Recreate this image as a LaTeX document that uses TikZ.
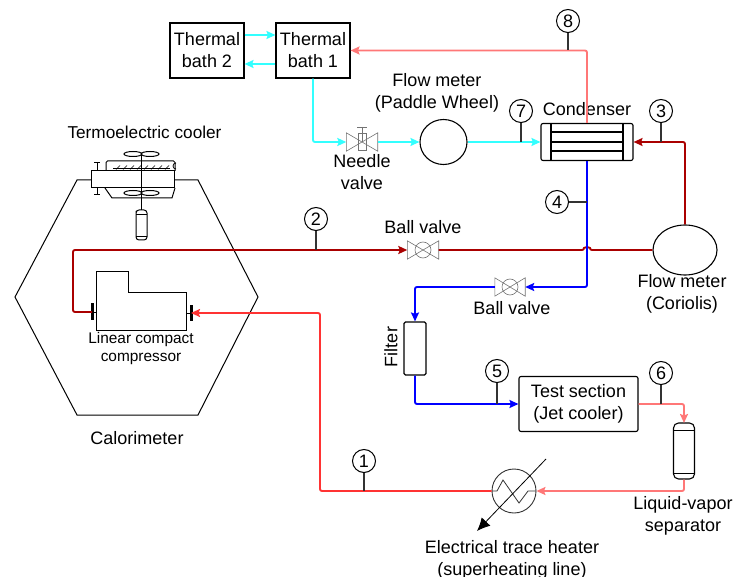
\documentclass[tikz,border=0pt]{standalone}
\usepackage{fontspec}
\setmainfont{Liberation Sans}
\usetikzlibrary{arrows.meta}
\usetikzlibrary{calc}
\usetikzlibrary{shapes.geometric}
\definecolor{cyanline}{HTML}{33FFFF}
\definecolor{darkline}{HTML}{AA0000}
\definecolor{blueline}{HTML}{0000FF}
\definecolor{pinkline}{HTML}{FF7777}
\definecolor{redline}{HTML}{FF3333}
\tikzset{
  pipe/.style={line width=1.9pt, rounded corners=2pt},
  flow/.style={pipe, -{Stealth[length=9pt,width=8pt,inset=1.5pt]}},
  tag/.style={circle, draw, line width=1pt, minimum size=23pt, inner sep=0pt, font=\fontsize{18}{18}\selectfont},
  tagline/.style={draw=black!80, line width=1.2pt},
  box/.style={draw, line width=1.1pt, align=center, font=\fontsize{18}{22}\selectfont, inner sep=0pt},
  meter/.style={ellipse, draw, line width=1.1pt, inner sep=0pt},
  txt/.style={align=center, font=\fontsize{18}{22}\selectfont, inner sep=0pt},
  hole/.style={inner sep=0pt, minimum width=#1, minimum height=18pt},
  fan/.style={line width=1pt},
  valve/.style={draw=black!55, line width=.6pt},
}
\begin{document}
\begin{tikzpicture}[x=1pt,y=-1pt]
  \useasboundingbox (0,0) rectangle (733,577);
  % calorimeter
  \draw[line width=1pt] (91,180)--(77,180)--(15,297)--(77,415)--(198,415)--(258,297)--(198,180)--(175,180);
  \node[txt] (calorimeter) at (137,438) {Calorimeter};
  % cooler
  \node[txt, font=\fontsize{17.2}{21}\selectfont] (coolerlabel) at (144.5,132) {Termoelectric cooler};
  \node[draw, line width=1pt, minimum width=83pt, minimum height=17pt, inner sep=0pt, fill=white] (cooler) at (132.5,179.5) {};
  \draw[line width=1pt, rounded corners=1.5pt] (106,171)--(106,161)--(175,161)--(175,171);
  \draw[line width=.8pt] (113,168)--(170,168);
  \foreach \x in {116,123,...,165}
    \draw[line width=.7pt] (\x,169.5)--(\x+4,165.5);
  \draw[line width=.8pt] (176,163) arc[start angle=-90, end angle=90, radius=-3pt];
  \draw[line width=1pt] (105,188)--(112,198)--(172,198)--(175,188);
  \draw[line width=1pt] (94,163)--(100,163) (97,163)--(97,171) (97,188)--(97,195) (94,195)--(100,195);
  \draw[line width=1pt] (141,153)--(141,210);
  \foreach \y in {154,193}
    {
      \draw[fan] (133,\y) ellipse [x radius=9pt, y radius=2.5pt];
      \draw[fan] (150,\y) ellipse [x radius=9pt, y radius=2.5pt];
    }
  \draw[line width=1pt, rounded corners=3pt] (136,214)--(136,210)--(147,210)--(147,240)--(136,240)--cycle;
  \draw[line width=.8pt] (136,214)--(147,214) (136,236)--(147,236);
  % compressor
  \draw[line width=1pt] (96,271)--(128,271)--(128,292)--(186,292)--(186,330)--(96,330)--cycle;
  \coordinate (compin) at (92,312);
  \coordinate (compout) at (191,313);
  \draw[line width=3pt] (92,303)--(92,320) (191,305)--(191,321);
  \draw[line width=1pt] (92,312)--(96,312) (186,313)--(191,313);
  \node[align=center, inner sep=0pt, font=\fontsize{15.4}{18}\selectfont] (complabel) at (141,349) {Linear compact\\compressor};
  % baths
  \node[box, minimum width=74pt, minimum height=55pt] (bath2) at (207,50.5) {Thermal\\bath 2};
  \node[box, minimum width=74pt, minimum height=55pt] (bath1) at (313,50.5) {Thermal\\bath 1};
  % condenser
  \node[draw, line width=1.1pt, rounded corners=2pt, minimum width=92pt, minimum height=37pt, inner sep=0pt] (condenser) at (587,142) {};
  \draw[line width=1.1pt] (551,123.5)--(551,160.5) (623,123.5)--(623,160.5);
  \foreach \y in {132,142,151}
    \draw[line width=1.1pt] (551,\y)--(623,\y);
  \node[txt] (condlabel) at (587,109) {Condenser};
  % meters
  \node[meter, minimum width=47pt, minimum height=45pt] (paddle) at (443.5,142) {};
  \node[txt] (paddlelabel) at (437,93) {Flow meter\\(Paddle Wheel)};
  \node[meter, minimum width=64pt, minimum height=50pt] (coriolis) at (685,250) {};
  \node[txt] (corioslabel) at (682,294) {Flow meter\\(Coriolis)};
  % valves
  \node[hole=31pt] (needle) at (362,142) {};
  \draw[valve] (needle.south west)--(needle.north east)--(needle.south east)--(needle.north west)--cycle;
  \draw[valve] (362,127)--(362,142) (357,127)--(367,127) (358,133) rectangle (366,150);
  \node[txt] (needlelabel) at (362,172) {Needle\\valve};
  \node[hole=31pt] (ball1) at (423,250) {};
  \draw[valve] (ball1.south west)--(ball1.north east)--(ball1.south east)--(ball1.north west)--cycle (ball1) circle [radius=8pt];
  \node[txt] (ball1label) at (423,227) {Ball valve};
  \node[hole=30pt] (ball2) at (510,287) {};
  \draw[valve] (ball2.south west)--(ball2.north east)--(ball2.south east)--(ball2.north west)--cycle (ball2) circle [radius=8pt];
  \node[txt] (ball2label) at (512,308) {Ball valve};
  % filter, test section, separator
  \node[draw, line width=1.1pt, rounded corners=1.5pt, minimum width=22pt, minimum height=53pt, inner sep=0pt] (filter) at (415,348.5) {};
  \node[txt, rotate=90] (filterlabel) at (391,347) {Filter};
  \node[box, rounded corners=2pt, minimum width=119pt, minimum height=55pt] (test) at (578.5,404) {Test section\\(Jet cooler)};
  \node[draw, line width=1.1pt, rounded corners=5pt, minimum width=21pt, minimum height=56pt, inner sep=0pt] (separator) at (684,451) {};
  \draw[line width=.9pt] (673.5,430)--(694.5,430) (673.5,473)--(694.5,473);
  \node[txt] (seplabel) at (683,516) {Liquid-vapor\\separator};
  % heater
  \node[circle, draw=black!80, line width=.9pt, minimum size=44pt, inner sep=0pt] (heater) at (514,491) {};
  \draw[line width=.8pt, black!80] (heater.west)--(497,491)--(503,480)--(519,503)--(528,491)--(heater.east);
  \coordinate (heatertip) at (477,531);
  \coordinate (heatertail) at (546,459);
  \draw[line width=.8pt, -{Latex[length=13pt,width=12pt]}] (heatertail)--(heatertip);
  \node[txt] (heaterlabel) at (512,559.5) {Electrical trace heater\\(superheating line)};
  % cyan side
  \draw[flow, cyanline] (bath2.east |- 0,35)--(bath1.west |- 0,35);
  \draw[flow, cyanline] (bath1.west |- 0,64)--(bath2.east |- 0,64);
  \draw[flow, cyanline] (bath1.south)--(313,142)--(needle.west);
  \draw[flow, cyanline] (needle.east)--(paddle.west);
  \draw[flow, cyanline] (paddle.east)--(condenser.west);
  \draw[flow, pinkline] (condenser.north)--(condenser.north |- bath1)--(bath1.east);
  % refrigerant
  \draw[flow, darkline] (coriolis.north)--(685,142)--(condenser.east);
  \draw[flow, darkline] (compin)--(73,312)--(73,250)--(ball1.west);
  \draw[pipe, darkline] (ball1.east)--(584,250) arc[start angle=180, end angle=0, radius=3pt]--(coriolis.west);
  \draw[flow, blueline] (condenser.south)--(587,287)--(ball2.east);
  \draw[flow, blueline] (ball2.west)--(415,287)--(filter.north);
  \draw[flow, blueline] (filter.south)--(415,404)--(test.west);
  \draw[flow, pinkline] (test.east)--(684,404)--(684,423);
  \draw[flow, pinkline] (separator.south)--(684,491)--(heater.east);
  \draw[flow, redline] (heater.west)--(320,491)--(320,313)--(compout);
  % numbered points
  \foreach \n/\x/\y in {1/364/461, 2/316/219, 3/661/111, 4/557/202, 5/497/371, 6/661/373, 7/521/111, 8/568/21}
    \node[tag] (p\n) at (\x,\y) {\n};
  \draw[tagline] (p1)--(p1 |- heater);
  \draw[tagline] (p2)--(p2 |- ball1);
  \draw[tagline] (p3)--(p3 |- condenser);
  \draw[tagline] (p4)--(p4 -| condenser);
  \draw[tagline] (p5)--(p5 |- test);
  \draw[tagline] (p6)--(p6 |- test);
  \draw[tagline] (p7)--(p7 |- condenser);
  \draw[tagline] (p8)--(p8 |- bath1);
\end{tikzpicture}
\end{document}
